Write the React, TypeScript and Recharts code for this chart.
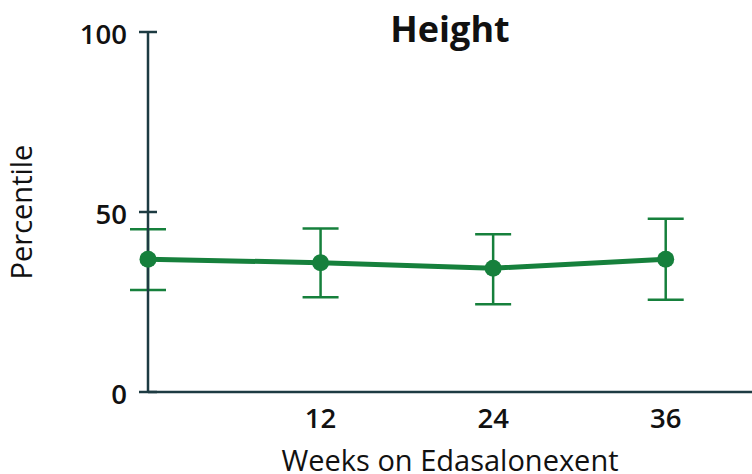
import { LineChart, Line, XAxis, YAxis, ErrorBar } from 'recharts';

const weeks = [0, 12, 24, 36];
const percentile = [36.9, 35.9, 34.4, 36.9];
const upper = [45.2, 45.4, 43.8, 48.1];
const lower = [28.3, 26.3, 24.4, 25.6];
const xTicks = [12, 24, 36];
const yTicks = [0, 50, 100];

const GREEN = '#16803c';
const AXIS = '#1d3b42';
const FONT = '"Open Sans", sans-serif';

const data = weeks.map((w, i) => ({
  week: w,
  value: percentile[i],
  err: [percentile[i] - lower[i], upper[i] - percentile[i]],
}));

// y ticks cross the axis line on both sides
function YTick(props: any) {
  const { x, y, payload } = props;
  return (
    <g>
      <line x1={x - 9} x2={x + 9} y1={y} y2={y} stroke={AXIS} strokeWidth={2.5} />
      <text
        x={x - 21}
        y={y}
        dy={12}
        textAnchor="end"
        fontFamily={FONT}
        fontSize={27.5}
        fontWeight={600}
        fill="#111"
      >
        {payload.value}
      </text>
    </g>
  );
}

export default function App() {
  return (
    <div style={{ position: 'absolute', left: 0, top: 0, width: 752, height: 474, background: '#fff' }}>
      <div
        style={{
          position: 'absolute',
          left: 148,
          width: 604,
          top: 11,
          textAlign: 'center',
          fontFamily: FONT,
          fontWeight: 700,
          fontSize: 36,
          lineHeight: '36px',
          color: '#111',
        }}
      >
        Height
      </div>
      <LineChart width={752} height={474} data={data} margin={{ top: 32, right: 0, bottom: 0, left: 0 }}>
        <XAxis
          dataKey="week"
          type="number"
          domain={[0, 42]}
          ticks={xTicks}
          height={82}
          axisLine={{ stroke: AXIS, strokeWidth: 2.5 }}
          tickLine={false}
          tickSize={0}
          tickMargin={16}
          tick={{ fontFamily: FONT, fontSize: 27.5, fontWeight: 600, fill: '#111' }}
          label={{
            value: 'Weeks on Edasalonexent',
            position: 'insideBottom',
            offset: 3,
            style: { fontFamily: FONT, fontSize: 29, fill: '#111' },
          }}
        />
        <YAxis
          type="number"
          domain={[0, 100]}
          ticks={yTicks}
          width={148}
          axisLine={{ stroke: AXIS, strokeWidth: 2.5 }}
          tickLine={false}
          tickSize={0}
          tickMargin={0}
          tick={<YTick />}
          label={{
            value: 'Percentile',
            angle: -90,
            position: 'insideLeft',
            offset: 22,
            style: { fontFamily: FONT, fontSize: 29, fill: '#111', textAnchor: 'middle' },
          }}
        />
        <Line
          dataKey="value"
          stroke={GREEN}
          strokeWidth={5}
          dot={{ r: 8.5, fill: GREEN, stroke: GREEN, strokeWidth: 0 }}
          isAnimationActive={false}
        >
          <ErrorBar dataKey="err" width={18} stroke={GREEN} strokeWidth={2.5} isAnimationActive={false} />
        </Line>
      </LineChart>
    </div>
  );
}
